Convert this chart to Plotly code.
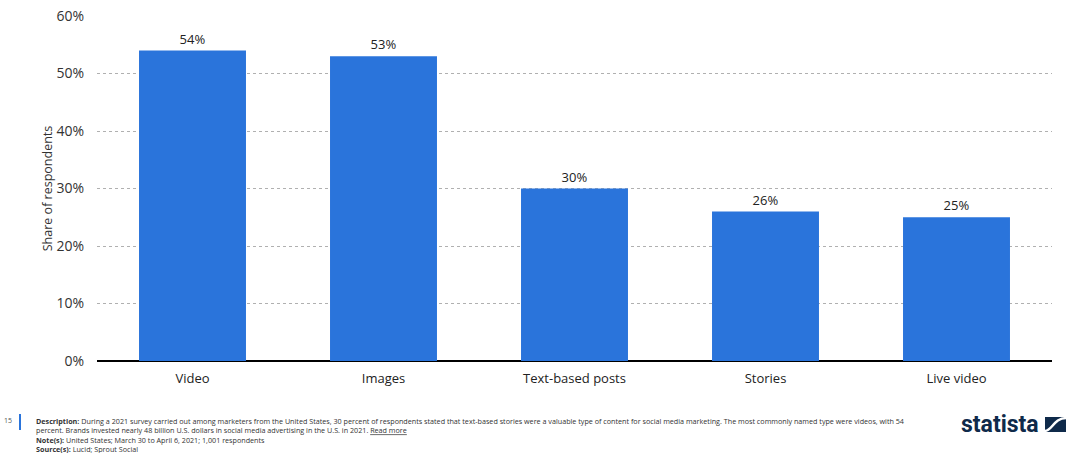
import plotly.graph_objects as go

categories = ["Video", "Images", "Text-based posts", "Stories", "Live video"]
values = [54, 53, 30, 26, 25]
tick_vals = [0, 10, 20, 30, 40, 50, 60]
tick_text = ["0%", "10%", "20%", "30%", "40%", "50%", "60%"]

W, H = 1068, 453
ML, MR, MT, MB = 97, 16, 16, 92
PW, PH = W - ML - MR, H - MT - MB


def px(x):
    return (x - ML) / PW


def py(y):
    return (H - MB - y) / PH


fig = go.Figure()
fig.add_trace(go.Bar(
    x=categories, y=values,
    marker=dict(color="#2a74db", line=dict(width=0)),
    text=[f"{v}%" for v in values], textposition="outside",
    textfont=dict(family="Open Sans", size=13, color="#222222"),
    cliponaxis=False,
))

fig.update_layout(
    width=W, height=H,
    margin=dict(l=ML, r=MR, t=MT, b=MB),
    paper_bgcolor="white", plot_bgcolor="white",
    bargap=0.44,
    showlegend=False,
    font=dict(family="Open Sans", color="#333333"),
    xaxis=dict(showgrid=False, tickfont=dict(size=13, color="#222222"), ticks="",
               showline=False, zeroline=False, automargin=False, ticklabelstandoff=8),
    yaxis=dict(range=[0, 60], tickvals=tick_vals, ticktext=tick_text,
               tickfont=dict(size=14, color="#333333"), automargin=False,
               showgrid=True, gridcolor="#b0b0b0", griddash="dot", gridwidth=1,
               zeroline=True, zerolinecolor="#000000", zerolinewidth=2,
               ticks="", ticklabelstandoff=12,
               title=dict(text="Share of respondents", font=dict(size=12.5, color="#333333"), standoff=0)),
)

desc = ("<b>Description:</b> During a 2021 survey carried out among marketers from the United States, 30 percent of respondents stated that text-based stories were a valuable type of content for social media marketing. The most commonly named type were videos, with 54<br>"
        "percent. Brands invested nearly 48 billion U.S. dollars in social media advertising in the U.S. in 2021. <u>Read more</u><br>"
        "<b>Note(s):</b> United States; March 30 to April 6, 2021; 1,001 respondents<br>"
        "<b>Source(s):</b> Lucid; Sprout Social")
fig.add_annotation(xref="paper", yref="paper", x=px(34), y=py(414), xanchor="left", yanchor="top",
                   text=desc, showarrow=False, align="left",
                   font=dict(family="Open Sans", size=7.2, color="#333333"))
fig.add_annotation(xref="paper", yref="paper", x=px(14), y=py(421), xanchor="right", yanchor="middle",
                   text="15", showarrow=False,
                   font=dict(family="Open Sans", size=7, color="#555555"))
fig.add_shape(type="line", xref="paper", yref="paper", x0=px(20), x1=px(20), y0=py(414), y1=py(430),
              line=dict(color="#2a74db", width=2))
fig.add_annotation(xref="paper", yref="paper", x=px(1041), y=py(424), xanchor="right", yanchor="middle",
                   text="<b>statista</b>", showarrow=False,
                   font=dict(family="Roboto", size=23, color="#0f2a4a"))
# logo mark
fig.add_shape(type="rect", xref="paper", yref="paper", x0=px(1045), x1=px(1066), y0=py(417), y1=py(432),
              fillcolor="#0f2a4a", line=dict(width=0))
fig.add_shape(type="path", xref="paper", yref="paper",
              path=(f"M {px(1045)},{py(431)} C {px(1052)},{py(431)} {px(1054)},{py(418)} {px(1066)},{py(418)}"),
              line=dict(color="white", width=2.5))

fig.write_html("out.html")
